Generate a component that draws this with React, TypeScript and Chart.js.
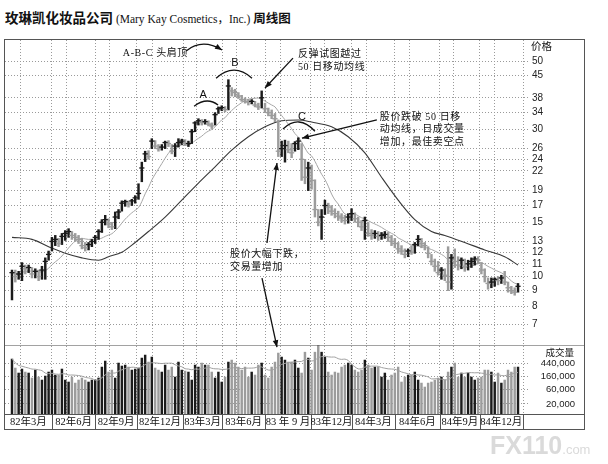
import React, { useEffect, useRef } from "react";
import { Chart, registerables } from "chart.js";

Chart.register(...registerables);

// ---------- data (weekly bars, week 0 = first bar) ----------
const CLOSE = [
  10.3, 10.0, 10.2, 10.8, 10.6, 10.7, 10.2, 10.4, 10.0, 10.5,
  11.2, 11.8, 13.0, 13.2, 12.8, 13.5, 13.8, 14.0, 13.6, 13.4,
  13.2, 12.6, 12.4, 12.7, 13.0, 13.4, 14.0, 15.0, 15.3, 14.8,
  14.5, 15.6, 16.2, 17.3, 17.5, 17.2, 17.6, 18.0, 18.6, 22.5,
  25.0, 24.5, 27.5, 26.5, 26.0, 26.3, 27.2, 27.0, 25.5, 26.5,
  27.2, 27.5, 27.0, 27.0, 29.5, 31.5, 32.0, 31.6, 31.8, 31.2,
  30.8, 33.5, 35.0, 35.3, 34.8, 41.5, 40.0, 39.5, 38.5, 37.5,
  37.0, 36.8, 37.0, 36.0, 35.5, 38.0, 35.0, 34.0, 33.3, 32.5,
  25.5, 26.0, 26.6, 25.8, 25.2, 27.0, 27.5, 24.0, 21.0, 22.5,
  20.5, 16.5, 15.0, 15.6, 17.0, 16.8, 16.3, 16.0, 15.7, 15.5,
  15.2, 15.6, 16.0, 15.4, 15.0, 14.5, 15.2, 13.8, 13.6, 13.8,
  13.5, 13.6, 13.7, 13.4, 13.0, 12.8, 12.3, 12.1, 11.8, 12.1,
  12.0, 12.7, 13.2, 12.8, 12.6, 11.9, 11.2, 10.8, 10.3, 10.5,
  10.1, 9.6, 11.5, 11.2, 10.9, 11.3, 10.8, 11.0, 11.2, 11.4,
  11.3, 10.5, 10.0, 9.5, 9.6, 9.8, 9.7, 9.9, 9.6, 9.2,
  9.0, 8.9, 9.3,
];
const HIGH = [
  10.5, 10.5, 10.4, 11.1, 10.9, 10.9, 10.7, 10.6, 10.5, 10.8,
  11.5, 12.1, 13.4, 13.6, 13.3, 13.8, 14.1, 14.3, 14.0, 13.8,
  13.6, 13.3, 12.9, 12.9, 13.2, 13.6, 14.2, 15.3, 15.8, 15.4,
  15.0, 16.2, 16.5, 17.6, 17.7, 17.6, 17.8, 18.3, 20.0, 23.5,
  25.5, 25.6, 28.0, 27.6, 26.8, 26.8, 27.5, 27.6, 26.8, 27.0,
  28.0, 27.9, 27.8, 27.5, 30.0, 31.8, 32.5, 32.3, 32.3, 32.0,
  31.5, 34.0, 35.5, 35.8, 35.6, 43.5, 41.0, 40.5, 39.5, 38.7,
  38.0, 37.6, 37.5, 37.0, 36.5, 40.0, 36.5, 35.2, 34.7, 33.8,
  32.2, 27.5, 27.7, 27.5, 27.0, 27.4, 28.2, 27.0, 24.0, 23.5,
  23.0, 20.6, 16.5, 16.5, 17.7, 17.3, 17.0, 16.6, 16.3, 16.0,
  15.8, 16.0, 16.6, 16.1, 15.6, 15.2, 15.6, 15.0, 14.2, 14.1,
  14.0, 13.9, 14.0, 13.9, 13.6, 13.3, 12.9, 12.6, 12.3, 12.3,
  12.6, 12.9, 13.6, 13.3, 12.9, 12.5, 11.8, 11.4, 11.2, 10.7,
  10.6, 12.5, 11.8, 12.3, 11.6, 11.5, 11.4, 11.3, 11.5, 11.6,
  11.6, 11.1, 10.6, 9.9, 9.9, 9.9, 10.0, 10.1, 10.4, 9.6,
  9.3, 9.2, 9.5,
];
const LOW = [
  8.4, 9.6, 9.8, 9.7, 10.2, 10.3, 9.9, 9.9, 9.7, 9.8,
  9.8, 11.3, 12.1, 12.6, 12.5, 12.7, 13.1, 13.4, 13.2, 13.0,
  12.8, 12.3, 12.1, 12.2, 12.5, 12.8, 13.2, 13.9, 14.7, 14.4,
  14.2, 14.3, 15.4, 16.3, 16.9, 16.8, 17.0, 17.3, 17.8, 20.3,
  23.6, 24.0, 26.0, 26.0, 25.5, 25.7, 26.0, 26.4, 25.0, 24.5,
  26.3, 26.8, 26.6, 26.4, 27.0, 29.5, 31.0, 31.0, 31.2, 30.8,
  30.2, 31.0, 33.8, 34.5, 34.2, 34.7, 38.5, 38.3, 37.8, 37.0,
  36.5, 36.0, 36.3, 35.5, 34.8, 35.2, 34.0, 33.2, 32.5, 31.8,
  24.5, 24.5, 23.5, 25.2, 24.3, 25.5, 25.8, 20.5, 20.0, 19.0,
  19.2, 15.6, 14.6, 13.2, 15.9, 16.0, 15.8, 15.5, 15.2, 15.0,
  14.8, 14.9, 15.2, 15.0, 14.5, 14.1, 13.2, 13.5, 13.2, 13.3,
  13.1, 13.2, 13.3, 13.0, 12.6, 12.4, 11.9, 11.8, 11.5, 11.6,
  11.8, 11.9, 12.6, 12.4, 12.2, 11.5, 10.9, 10.4, 10.1, 9.8,
  9.7, 9.0, 9.1, 10.7, 10.5, 10.6, 10.4, 10.5, 10.7, 10.9,
  11.0, 10.2, 9.6, 9.1, 9.2, 9.3, 9.4, 9.5, 9.4, 8.9,
  8.8, 8.7, 8.9,
];
const VOLUME = [
  595000, 302000, 207000, 280000, 223000, 207000, 142000, 259000, 153000, 122000,
  165000, 223000, 259000, 178000, 178000, 280000, 122000, 105000, 153000, 97000,
  122000, 142000, 122000, 105000, 122000, 122000, 142000, 325000, 511000, 223000,
  259000, 142000, 440000, 351000, 378000, 325000, 259000, 280000, 302000, 641000,
  804000, 474000, 691000, 302000, 259000, 223000, 378000, 259000, 325000, 153000,
  474000, 259000, 240000, 223000, 122000, 378000, 325000, 440000, 378000, 378000,
  223000, 142000, 223000, 105000, 153000, 474000, 551000, 440000, 325000, 259000,
  325000, 153000, 223000, 178000, 378000, 440000, 178000, 142000, 325000, 474000,
  936000, 691000, 551000, 474000, 474000, 551000, 302000, 207000, 1000000, 641000,
  259000, 1000000, 1700000, 1000000, 691000, 223000, 178000, 223000, 207000, 325000,
  378000, 440000, 378000, 259000, 223000, 259000, 551000, 378000, 302000, 325000,
  325000, 153000, 207000, 122000, 178000, 207000, 325000, 105000, 153000, 178000,
  178000, 223000, 122000, 97000, 72000, 97000, 105000, 122000, 142000, 153000,
  122000, 223000, 325000, 440000, 153000, 207000, 153000, 207000, 153000, 122000,
  142000, 153000, 259000, 259000, 223000, 105000, 207000, 97000, 122000, 259000,
  223000, 325000, 325000,
];
// dark (long) moving average, read at a few weeks
const LONG_MA_WEEKS = [0, 6, 11, 16, 21, 26, 29, 33, 37, 41, 46, 51, 56, 61, 66, 71, 76, 81, 86, 90, 96, 101, 106, 111, 116, 121, 126, 130, 136, 142, 148, 152];
const LONG_MA_VALUES = [13.4, 13.2, 12.5, 11.9, 11.5, 11.3, 11.6, 12.0, 12.9, 14.0, 15.6, 17.7, 20.1, 22.7, 25.7, 28.4, 30.6, 32.0, 32.2, 31.7, 30.6, 28.4, 25.2, 21.0, 17.7, 15.3, 14.0, 13.6, 12.9, 12.2, 11.6, 10.9];

const PRICE_TICKS = [50, 45, 38, 34, 30, 26, 24, 22, 19, 17, 15, 13, 12, 11, 10, 9, 8, 7];
const VOLUME_TICKS = [440000, 160000, 60000, 20000];
const QUARTER_LABELS = ["82年3月", "82年6月", "82年9月", "82年12月", "83年3月", "83年6月", "83 年 9 月", "83年12月", "84年3月", "84年6月", "84年9月", "84年12月"];
const QUARTER_BOUNDS = [-2.1, 12, 25, 37.5, 51.4, 63.1, 76, 89.8, 102.1, 115, 128.5, 140.5, 153.5];

const PRICE_MIN = 6.0;
const PRICE_MAX = 58.5;
const VOL_MIN = 9400;
const VOL_MAX = 1720000;
const X_MIN = -2.1;
const X_MAX = 155;

const UP = "#1b1b1b";
const DOWN = "#9c9c9c";
const SERIF_CJK = '"Liberation Serif", "Noto Sans CJK SC", serif';

function movingAverage(values: number[], n: number): number[] {
  return values.map((_, i) => {
    const s = Math.max(0, i - n + 1);
    let sum = 0;
    for (let k = s; k <= i; k++) sum += values[k];
    return sum / (i - s + 1);
  });
}

function arrowHead(ctx: CanvasRenderingContext2D, fx: number, fy: number, tx: number, ty: number, len = 7, half = 2.8) {
  const a = Math.atan2(ty - fy, tx - fx);
  const bx = tx - len * Math.cos(a);
  const by = ty - len * Math.sin(a);
  ctx.beginPath();
  ctx.moveTo(tx, ty);
  ctx.lineTo(bx + half * Math.sin(a), by - half * Math.cos(a));
  ctx.lineTo(bx - half * Math.sin(a), by + half * Math.cos(a));
  ctx.closePath();
  ctx.fill();
}

function straightArrow(ctx: CanvasRenderingContext2D, x1: number, y1: number, x2: number, y2: number) {
  ctx.beginPath();
  ctx.moveTo(x1, y1);
  ctx.lineTo(x2, y2);
  ctx.stroke();
  arrowHead(ctx, x1, y1, x2, y2);
}

const decorations = {
  id: "decorations",
  afterDraw(chart: any) {
    const { ctx, chartArea, scales } = chart;
    const xs = scales.x;
    const ps = scales.price;
    const vs = scales.vol;
    const X = (w: number) => xs.getPixelForValue(w);
    const P = (p: number) => ps.getPixelForValue(p);
    const axisW = vs.right - vs.left;
    const L = chartArea.left - 0.5;
    const T = chartArea.top - 0.5;
    const R = chartArea.right + axisW + 0.5;
    const dateTop = Math.round(vs.bottom) + 0.5;
    const B = dateTop + 15;

    ctx.save();
    // panel separator (price / volume)
    ctx.strokeStyle = "#444";
    ctx.lineWidth = 1;
    ctx.setLineDash([1, 1]);
    ctx.beginPath();
    ctx.moveTo(L, Math.round(vs.top) + 0.5);
    ctx.lineTo(R, Math.round(vs.top) + 0.5);
    ctx.stroke();
    ctx.setLineDash([]);
    // date row line + frame
    ctx.strokeStyle = "#555";
    ctx.beginPath();
    ctx.moveTo(L, dateTop);
    ctx.lineTo(R, dateTop);
    ctx.stroke();
    ctx.strokeRect(L, T, R - L, B - T);
    // date cells
    ctx.fillStyle = "#111";
    ctx.font = `10.5px ${SERIF_CJK}`;
    ctx.textAlign = "center";
    ctx.textBaseline = "middle";
    for (let k = 1; k < QUARTER_BOUNDS.length; k++) {
      const xx = Math.round(X(QUARTER_BOUNDS[k])) + 0.5;
      ctx.beginPath();
      ctx.moveTo(xx, dateTop);
      ctx.lineTo(xx, B);
      ctx.stroke();
    }
    for (let k = 0; k < QUARTER_LABELS.length; k++) {
      const cx = (X(QUARTER_BOUNDS[k]) + X(QUARTER_BOUNDS[k + 1])) / 2;
      ctx.fillText(QUARTER_LABELS[k], cx, dateTop + 8);
    }
    // axis titles
    ctx.font = '10.5px "Noto Sans CJK SC", sans-serif';
    ctx.textAlign = "left";
    ctx.fillText("价格", chartArea.right + 3, P(PRICE_MAX) + 6.5);
    ctx.textAlign = "right";
    ctx.font = '9.5px "Noto Sans CJK SC", sans-serif';
    ctx.fillText("成交量", chartArea.right + 46, vs.top + 7);
    // volume tick labels, right-aligned, at the volume scale's tick positions
    ctx.font = '9.5px "Liberation Sans", Arial, sans-serif';
    ctx.fillStyle = "#222";
    for (const t of vs.ticks) {
      ctx.fillText(Number(t.value).toLocaleString("en-US"), chartArea.right + 47, vs.getPixelForValue(t.value));
    }

    // ---------- annotations ----------
    ctx.strokeStyle = "#111";
    ctx.fillStyle = "#111";
    ctx.lineWidth = 1.3;
    ctx.textAlign = "left";
    ctx.textBaseline = "middle";
    (ctx as any).letterSpacing = "0.6px";
    ctx.font = `10px ${SERIF_CJK}`;
    ctx.fillText("A-B-C 头肩顶", X(33.3), P(53.1));
    ctx.fillText("反弹试图越过", X(85.9), P(52.7));
    ctx.fillText("50 日移动均线", X(85.9), P(47.8));
    ctx.fillText("股价跌破 50 日移", X(110.5), P(32.9));
    ctx.fillText("动均线，日成交量", X(110.5), P(30.1));
    ctx.fillText("增加，最佳卖空点", X(110.5), P(27.3));
    ctx.fillText("股价大幅下跌，", X(65.5), P(11.84));
    ctx.fillText("交易量增加", X(65.5), P(10.74));
    (ctx as any).letterSpacing = "0px";
    ctx.textAlign = "center";
    ctx.font = '11px "Liberation Sans", Arial, sans-serif';
    ctx.fillText("A", X(57.4), P(38.8));
    ctx.fillText("B", X(67.0), P(49.3));
    ctx.fillText("C", X(87.1), P(32.9));

    // arcs over the three peaks
    const arc = (w1: number, p1: number, wc: number, pc: number, w2: number, p2: number) => {
      ctx.beginPath();
      ctx.moveTo(X(w1), P(p1));
      ctx.quadraticCurveTo(X(wc), P(pc), X(w2), P(p2));
      ctx.stroke();
    };
    arc(54.7, 35.7, 58.6, 38.4, 61.9, 36.0);
    arc(61.3, 44.0, 66.7, 49.6, 72.1, 44.0);
    arc(81.4, 30.1, 86.2, 33.7, 91.0, 29.6);

    // curved arrow after "A-B-C 头肩顶"
    ctx.beginPath();
    ctx.moveTo(X(52.3), P(53.9));
    ctx.quadraticCurveTo(X(57.1), P(59.4), X(63.1), P(54.3));
    ctx.stroke();
    arrowHead(ctx, X(57.1), P(59.4), X(63.1), P(54.3));

    // straight arrows
    straightArrow(ctx, X(84.4), P(51.1), X(76.0), P(40.9));
    straightArrow(ctx, X(109.6), P(32.2), X(87.1), P(28.1));
    straightArrow(ctx, X(76.6), P(12.85), X(79.6), P(23.35));
    straightArrow(ctx, X(75.1), P(9.89), X(79.6), vs.getPixelForValue(1460000));
    ctx.restore();
  },
};

export default function App() {
  const ref = useRef<HTMLCanvasElement | null>(null);

  useEffect(() => {
    const canvas = ref.current;
    if (!canvas) return;
    const weeks = CLOSE.map((_, i) => i);
    const colors = CLOSE.map((c, i) => (i === 0 || c >= CLOSE[i - 1] ? UP : DOWN));
    const shortMa = movingAverage(CLOSE, 10);
    const volMa = movingAverage(VOLUME, 10);
    const gridWeeks: number[] = [];
    for (let k = 0; k < QUARTER_BOUNDS.length - 1; k++) {
      if (k > 0) gridWeeks.push(QUARTER_BOUNDS[k]);
      gridWeeks.push(QUARTER_BOUNDS[k] + (QUARTER_BOUNDS[k + 1] - QUARTER_BOUNDS[k]) / 3);
    }
    gridWeeks.push(QUARTER_BOUNDS[QUARTER_BOUNDS.length - 1]);

    const tickFont = { family: '"Liberation Sans", Arial, sans-serif', size: 10 };
    const gridOpts = { color: "#9a9a9a", lineWidth: 1, drawTicks: false, offset: false };
    const borderOpts = { display: false, dash: [1, 2] };

    const chart = new Chart(canvas, {
      type: "bar",
      data: {
        datasets: [
          {
            type: "line",
            label: "close",
            data: weeks.map((i) => ({ x: i, y: CLOSE[i] })),
            yAxisID: "price",
            showLine: false,
            pointStyle: "line",
            pointRadius: 2.6,
            pointHoverRadius: 2.6,
            pointBorderWidth: 1.3,
            pointBorderColor: colors,
            pointBackgroundColor: colors,
            order: 1,
          } as any,
          {
            type: "bar",
            label: "range",
            data: weeks.map((i) => ({ x: i, y: [LOW[i], HIGH[i]] })),
            yAxisID: "price",
            backgroundColor: colors,
            barThickness: 1.8,
            grouped: false,
            order: 2,
          } as any,
          {
            type: "line",
            label: "ma10",
            data: weeks.map((i) => ({ x: i, y: shortMa[i] })),
            yAxisID: "price",
            borderColor: "#a6a6a6",
            borderWidth: 1,
            pointRadius: 0,
            tension: 0.3,
            order: 3,
          } as any,
          {
            type: "line",
            label: "ma40",
            data: LONG_MA_WEEKS.map((w, k) => ({ x: w, y: LONG_MA_VALUES[k] })),
            yAxisID: "price",
            borderColor: "#383838",
            borderWidth: 1.1,
            pointRadius: 0,
            cubicInterpolationMode: "monotone",
            order: 3,
          } as any,
          {
            type: "bar",
            label: "volume",
            data: weeks.map((i) => ({ x: i, y: VOLUME[i] })),
            yAxisID: "vol",
            backgroundColor: colors,
            barThickness: 1.8,
            grouped: false,
            order: 2,
          } as any,
          {
            type: "line",
            label: "volMa",
            data: weeks.map((i) => ({ x: i, y: volMa[i] })),
            yAxisID: "vol",
            borderColor: "#a0a0a0",
            borderWidth: 1,
            pointRadius: 0,
            tension: 0.3,
            order: 1,
          } as any,
        ],
      },
      options: {
        responsive: false,
        animation: false,
        events: [],
        layout: { padding: { left: 5, top: 40, right: 24, bottom: 50 } },
        plugins: { legend: { display: false }, tooltip: { enabled: false } },
        scales: {
          x: {
            type: "linear",
            min: X_MIN,
            max: X_MAX,
            offset: false,
            afterBuildTicks: (s: any) => {
              s.ticks = gridWeeks.map((v) => ({ value: v }));
            },
            afterFit: (s: any) => {
              s.height = 0;
            },
            ticks: { display: false },
            grid: gridOpts,
            border: borderOpts,
          },
          price: {
            type: "logarithmic",
            position: "right",
            stack: "panels",
            stackWeight: 305,
            min: PRICE_MIN,
            max: PRICE_MAX,
            beginAtZero: false,
            afterBuildTicks: (s: any) => {
              s.ticks = PRICE_TICKS.map((v) => ({ value: v }));
            },
            afterFit: (s: any) => {
              s.width = 56;
            },
            ticks: {
              autoSkip: false,
              callback: (v: any) => String(v),
              font: tickFont,
              color: "#222",
              padding: 4,
              crossAlign: "near",
            },
            grid: gridOpts,
            border: borderOpts,
          },
          vol: {
            type: "logarithmic",
            position: "right",
            stack: "panels",
            stackWeight: 69,
            min: VOL_MIN,
            max: VOL_MAX,
            beginAtZero: false,
            afterBuildTicks: (s: any) => {
              s.ticks = VOLUME_TICKS.map((v) => ({ value: v }));
            },
            afterFit: (s: any) => {
              s.width = 56;
            },
            ticks: { display: false, autoSkip: false },
            grid: gridOpts,
            border: borderOpts,
          },
        } as any,
      },
      plugins: [decorations],
    });
    return () => chart.destroy();
  }, []);

  const bold = { fontFamily: '"Noto Sans CJK SC", sans-serif', fontWeight: 700, fontSize: 13.5 };
  return (
    <div style={{ position: "fixed", left: 0, top: 0, width: 608, height: 464, background: "#fff", overflow: "hidden" }}>
      <div style={{ position: "absolute", left: 5, top: 8, whiteSpace: "nowrap", lineHeight: "18px", color: "#111" }}>
        <span style={bold}>玫琳凯化妆品公司</span>
        <span style={{ fontFamily: '"Liberation Serif", "Noto Sans CJK SC", serif', fontSize: 11.5 }}> (Mary Kay Cosmetics，Inc.) </span>
        <span style={{ ...bold, fontSize: 12.5 }}>周线图</span>
      </div>
      <canvas ref={ref} width={608} height={464} style={{ position: "absolute", left: 0, top: 0, width: 608, height: 464 }} />
      <div style={{ position: "absolute", left: 490, top: 431, color: "#dadada", fontFamily: '"Liberation Sans", Arial, sans-serif', fontWeight: 700, fontSize: 25, lineHeight: "28px", whiteSpace: "nowrap" }}>
        FX110<span style={{ fontSize: 13, fontWeight: 400 }}>.com</span>
      </div>
    </div>
  );
}
